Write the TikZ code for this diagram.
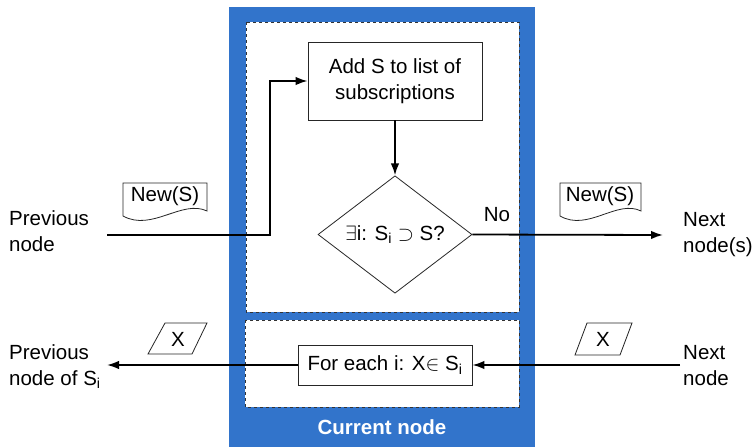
\documentclass[tikz,border=0pt]{standalone}
\usepackage{fontspec}
\setmainfont{Liberation Sans}
\usetikzlibrary{shapes.geometric,arrows.meta}
\definecolor{nodeblue}{RGB}{50,116,203}
\begin{document}
\begin{tikzpicture}[x=1pt,y=-1pt,
  font=\fontsize{20.5}{25.5}\selectfont,
  lbl/.style={inner sep=0pt, align=left, anchor=base west},
  procbox/.style={draw=black!85, line width=0.8pt, fill=white, inner sep=0pt, align=center},
  decision/.style={diamond, draw=black!85, line width=0.8pt, fill=white, inner sep=0pt},
  panel/.style={draw=black!80, dashed, line width=0.8pt, fill=white},
  docshape/.style={draw=black!85, line width=0.8pt, fill=white},
  flow/.style={line width=1.8pt, -{Latex[length=12pt,width=8.5pt]}}
]
\useasboundingbox (0,0) rectangle (754,447);

% the current node and its two sections
\fill[nodeblue] (229,7) rectangle (535,447);
\draw[panel] (246,22) rectangle (519,312);
\draw[panel] (245,320) rectangle (519,407);
\node[text=white, font=\fontsize{20.5}{25}\selectfont\bfseries] (cur) at (382,427) {Current node};

% processing steps
\node[procbox, minimum width=174pt, minimum height=78pt] (add) at (395,81) {Add S to list of\\subscriptions};
\node[decision, minimum width=154pt, minimum height=115pt] (test) at (395,234.5) {$\exists$i: S\textsubscript{i} $\supset$ S?};
\node[procbox, minimum width=174pt, minimum height=40pt] (each) at (385,365) {For each i: X$\in$ S\textsubscript{i}};

% outside labels (anchored at the baseline of their last line)
\node[lbl] (prev) at (9,251) {Previous\\node};
\node[lbl] (next) at (683,252) {Next\\node(s)};
\node[lbl] (prevs) at (9,385) {Previous\\node of S\textsubscript{i}};
\node[lbl] (nextb) at (683,385) {Next\\node};
\node[inner sep=0pt] (no) at (497,215) {No};

% message symbols
\draw[docshape] (123,183) -- (207,183) -- (207,211) .. controls (182,199) and (152,232) .. (123,216) -- cycle;
\node[inner sep=0pt] (msgin) at (165,196) {New(S)};
\draw[docshape] (560,183) -- (641,183) -- (641,211) .. controls (617,199) and (588,232) .. (560,216) -- cycle;
\node[inner sep=0pt] (msgout) at (600,196) {New(S)};
\draw[docshape] (165,323) -- (207,323) -- (192,354) -- (148,354) -- cycle;
\node[inner sep=0pt] (xl) at (178,339) {X};
\draw[docshape] (587,323) -- (632,323) -- (620,355) -- (575,355) -- cycle;
\node[inner sep=0pt] (xr) at (603,339) {X};

% connector end points
\coordinate (inS) at (107,235);
\coordinate (bend) at (270,235);
\coordinate (outS) at (663,235);
\coordinate (inX) at (680,365);
\coordinate (outX) at (107,365);

% connectors
\draw[flow] (inS) -- (bend) |- (add.west);
\draw[flow] (add.south) -- (test.north);
\draw[flow] (test.east) -- (outS);
\draw[flow] (inX) -- (each.east);
\draw[flow] (each.west) -- (outX);
\end{tikzpicture}
\end{document}
